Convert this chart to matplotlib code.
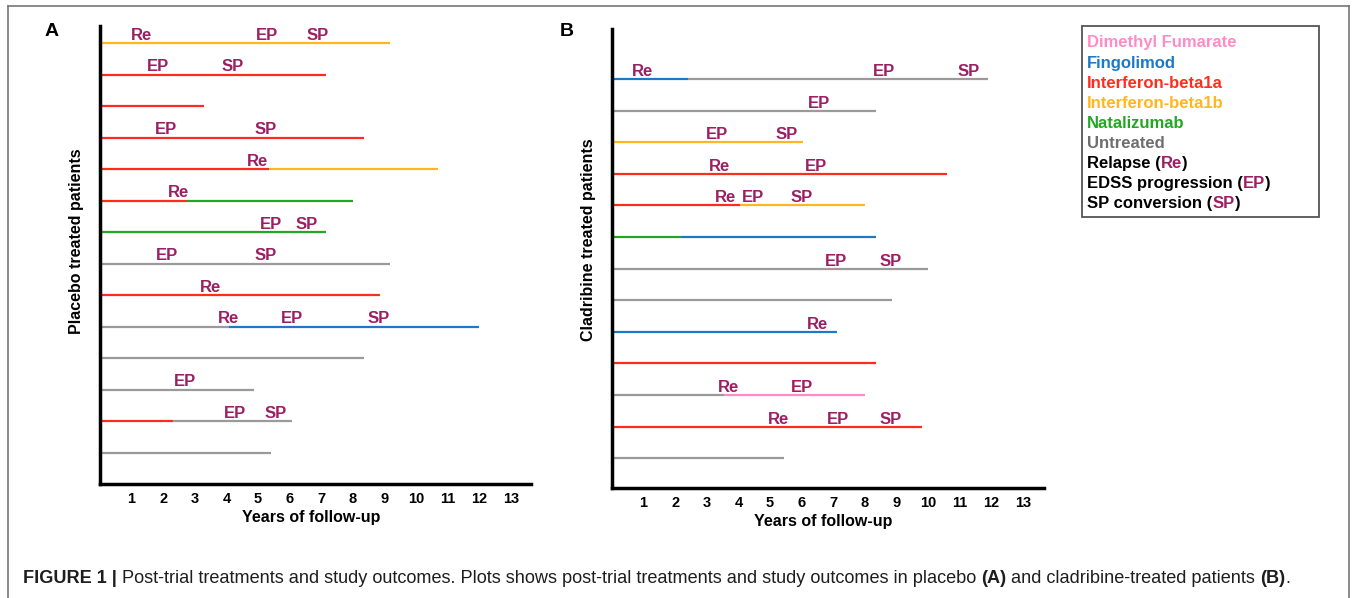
import matplotlib
matplotlib.use("Agg")
import matplotlib.pyplot as plt
from matplotlib.lines import Line2D
from matplotlib.patches import Rectangle

W, H = 1357, 598
plt.rcParams["font.family"] = ["Liberation Sans", "DejaVu Sans"]

# treatment colours (legend order)
TREATMENTS = ["Dimethyl Fumarate", "Fingolimod", "Interferon-beta1a",
              "Interferon-beta1b", "Natalizumab", "Untreated"]
LINE_COLORS = ["#ff8cc6", "#1f78c4", "#ff2d1e", "#ffb71f", "#22a722", "#9a9a9a"]
TEXT_COLORS = ["#ff8cc6", "#1f78c4", "#ff2d1e", "#ffb71f", "#22a722", "#6e6e6e"]
EVENT_COLOR = "#9c1f63"

# panel A: placebo treated patients -> (row, start year, end year, treatment)
A_segments = [
    (1, 0, 9.18, "Interferon-beta1b"),
    (2, 0, 7.15, "Interferon-beta1a"),
    (3, 0, 3.30, "Interferon-beta1a"),
    (4, 0, 8.36, "Interferon-beta1a"),
    (5, 0, 5.35, "Interferon-beta1a"), (5, 5.35, 10.70, "Interferon-beta1b"),
    (6, 0, 2.75, "Interferon-beta1a"), (6, 2.75, 8.00, "Natalizumab"),
    (7, 0, 7.15, "Natalizumab"),
    (8, 0, 9.18, "Untreated"),
    (9, 0, 8.85, "Interferon-beta1a"),
    (10, 0, 4.08, "Untreated"), (10, 4.08, 12.00, "Fingolimod"),
    (11, 0, 8.36, "Untreated"),
    (12, 0, 4.87, "Untreated"),
    (13, 0, 2.31, "Interferon-beta1a"), (13, 2.31, 6.08, "Untreated"),
    (14, 0, 5.41, "Untreated"),
]
A_events = [
    (1, 1.30, "Re"), (1, 5.30, "EP"), (1, 6.90, "SP"),
    (2, 1.84, "EP"), (2, 4.20, "SP"),
    (4, 2.09, "EP"), (4, 5.25, "SP"),
    (5, 4.97, "Re"),
    (6, 2.47, "Re"),
    (7, 5.41, "EP"), (7, 6.55, "SP"),
    (8, 2.12, "EP"), (8, 5.25, "SP"),
    (9, 3.50, "Re"),
    (10, 4.08, "Re"), (10, 6.08, "EP"), (10, 8.83, "SP"),
    (12, 2.69, "EP"),
    (13, 4.27, "EP"), (13, 5.57, "SP"),
]

# panel B: cladribine treated patients
B_segments = [
    (1, 0, 2.40, "Fingolimod"), (1, 2.40, 11.90, "Untreated"),
    (2, 0, 8.35, "Untreated"),
    (3, 0, 6.04, "Interferon-beta1b"),
    (4, 0, 10.60, "Interferon-beta1a"),
    (5, 0, 4.05, "Interferon-beta1a"), (5, 4.05, 8.00, "Interferon-beta1b"),
    (6, 0, 2.18, "Natalizumab"), (6, 2.18, 8.35, "Fingolimod"),
    (7, 0, 10.00, "Untreated"),
    (8, 0, 8.87, "Untreated"),
    (9, 0, 7.12, "Fingolimod"),
    (10, 0, 8.35, "Interferon-beta1a"),
    (11, 0, 3.54, "Untreated"), (11, 3.54, 8.00, "Dimethyl Fumarate"),
    (12, 0, 9.80, "Interferon-beta1a"),
    (13, 0, 5.44, "Untreated"),
]
B_events = [
    (1, 0.98, "Re"), (1, 8.60, "EP"), (1, 11.30, "SP"),
    (2, 6.55, "EP"),
    (3, 3.32, "EP"), (3, 5.54, "SP"),
    (4, 3.39, "Re"), (4, 6.46, "EP"),
    (5, 3.58, "Re"), (5, 4.45, "EP"), (5, 6.00, "SP"),
    (7, 7.09, "EP"), (7, 8.83, "SP"),
    (9, 6.51, "Re"),
    (11, 3.70, "Re"), (11, 6.00, "EP"),
    (12, 5.28, "Re"), (12, 7.15, "EP"), (12, 8.83, "SP"),
]

YEAR_TICKS = list(range(1, 14))
CAPTION = [
    ("FIGURE 1 |", "bold", True),
    ("Post-trial treatments and study outcomes. Plots shows post-trial treatments "
     "and study outcomes in placebo", "normal", True),
    ("(A)", "bold", True),
    ("and cladribine-treated patients", "normal", True),
    ("(B)", "bold", False),
    (".", "normal", False),
]

fig = plt.figure(figsize=(W / 100, H / 100), dpi=100)
renderer = fig.canvas.get_renderer()


def fx(px):
    return px / W


def fy(py):
    return 1 - py / H


def text_width(s, size, weight):
    t = fig.text(0, 0, s, size=size, weight=weight)
    w = t.get_window_extent(renderer).width
    t.remove()
    return w


def rich_text(x, y, pieces, size):
    gap = text_width("a a", size, "bold") - text_width("aa", size, "bold")
    for s, color, weight, space in pieces:
        t = fig.text(fx(x), fy(y), s, color=color, weight=weight, size=size,
                     ha="left", va="baseline")
        x += t.get_window_extent(renderer).width
        if space:
            x += gap


def make_panel(left, right, top, bottom, xmax, ylim, segments, events, ylabel, label_y):
    ax = fig.add_axes([fx(left), fy(bottom), fx(right) - fx(left), fy(top) - fy(bottom)])
    for row, x0, x1, tr in segments:
        ax.plot([x0, x1], [row, row], color=LINE_COLORS[TREATMENTS.index(tr)],
                lw=1.6, solid_capstyle="butt")
    for row, x, lab in events:
        ax.annotate(lab, (x, row), xytext=(0, 2.2), textcoords="offset points",
                    ha="center", va="baseline", color=EVENT_COLOR,
                    fontsize=12, fontweight="bold")
    ax.set_xlim(0, xmax)
    ax.set_ylim(*ylim)
    for s in ["top", "right"]:
        ax.spines[s].set_visible(False)
    for s in ["left", "bottom"]:
        ax.spines[s].set_linewidth(2.5)
    ax.set_yticks([])
    ax.set_xticks(YEAR_TICKS)
    ax.set_xticklabels([str(t) for t in YEAR_TICKS], fontsize=10.5, fontweight="bold")
    ax.tick_params(axis="x", length=0, pad=6)
    ax.set_xlabel("Years of follow-up", fontsize=11.5, fontweight="bold")
    ax.xaxis.set_label_coords(0.49, -0.056)
    ax.set_ylabel(ylabel, fontsize=11.5, fontweight="bold")
    ax.yaxis.set_label_coords(-0.036, label_y)
    return ax


make_panel(100, 531, 26, 484, 431 / 31.6, (15.0, 0.46), A_segments, A_events,
           "Placebo treated patients", 0.53)
make_panel(612, 1044, 29, 488, 432 / 31.6, (13.94, -0.58), B_segments, B_events,
           "Cladribine treated patients", 0.54)

fig.text(fx(52), fy(32), "A", fontsize=14, fontweight="bold", ha="center", va="center")
fig.text(fx(567), fy(32), "B", fontsize=14, fontweight="bold", ha="center", va="center")

# legend box
fig.patches.append(Rectangle((fx(1082), fy(217)), fx(1319) - fx(1082), fy(26) - fy(217),
                             transform=fig.transFigure, fill=False,
                             edgecolor="#555555", lw=1.3))
for i, (name, col) in enumerate(zip(TREATMENTS, TEXT_COLORS)):
    fig.text(fx(1087), fy(47.5 + 20.1 * i), name, color=col, fontsize=12,
             fontweight="bold", ha="left", va="baseline")
outcomes = [("Relapse (", "Re"), ("EDSS progression (", "EP"), ("SP conversion (", "SP")]
for j, (lead, code) in enumerate(outcomes):
    rich_text(1087, 47.5 + 20.1 * (6 + j),
              [(lead, "black", "bold", False), (code, EVENT_COLOR, "bold", False),
               (")", "black", "bold", False)], 12)

# figure frame (open at the bottom)
frame = "#777777"
fig.add_artist(Line2D([fx(8), fx(8)], [0, fy(6)], color=frame, lw=1.2))
fig.add_artist(Line2D([fx(8), fx(1349)], [fy(6), fy(6)], color=frame, lw=1.2))
fig.add_artist(Line2D([fx(1349), fx(1349)], [0, fy(6)], color=frame, lw=1.2))

# caption
rich_text(23, 583, [(s, "#1e1e1e", w, sp) for s, w, sp in CAPTION], 13.1)

fig.savefig("out.png", dpi=100)
